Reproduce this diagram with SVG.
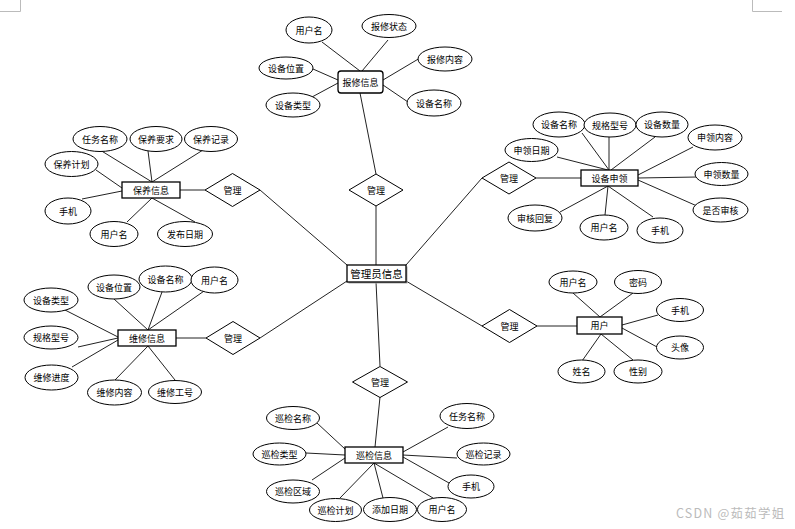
<svg xmlns="http://www.w3.org/2000/svg" width="795" height="529" viewBox="0 0 795 529">
<style>
.e{fill:#fff;stroke:#000;stroke-width:1}
.r{fill:#fff;stroke:#000;stroke-width:1.3}
.d{fill:#fff;stroke:#000;stroke-width:1}
.c line{stroke:#222;stroke-width:1}
.m{stroke:#bbb;stroke-width:1;fill:none}
text{font-family:"Noto Sans CJK SC","Noto Sans",sans-serif;font-size:9px;text-anchor:middle;dominant-baseline:central;fill:#000}
.big{font-size:10.5px}
.wm{font-size:12.5px;fill:#bbb;text-anchor:start;dominant-baseline:auto;letter-spacing:1.2px}
</style>
<rect width="795" height="529" fill="#fff"/>
<path class="m" d="M0 11.5H20.5V0M752.5 0V11.5H782"/>
<g id="connectors" class="c">
<line x1="322" y1="42" x2="360" y2="71"/>
<line x1="388" y1="40" x2="362" y2="71"/>
<line x1="313" y1="69" x2="338" y2="80"/>
<line x1="312" y1="97" x2="338" y2="83"/>
<line x1="420" y1="58" x2="383" y2="80"/>
<line x1="408" y1="102" x2="383" y2="85"/>
<line x1="360" y1="93" x2="376" y2="174"/>
<line x1="376" y1="206" x2="376" y2="265"/>
<line x1="100" y1="150" x2="152" y2="182"/>
<line x1="148" y1="151" x2="152" y2="182"/>
<line x1="203" y1="150" x2="152" y2="182"/>
<line x1="96" y1="170" x2="122" y2="188"/>
<line x1="82" y1="199" x2="122" y2="191"/>
<line x1="127" y1="222" x2="152" y2="198"/>
<line x1="195" y1="222" x2="152" y2="198"/>
<line x1="180" y1="190" x2="205" y2="190"/>
<line x1="260" y1="190" x2="347" y2="265"/>
<line x1="582" y1="133" x2="609" y2="170"/>
<line x1="609" y1="137" x2="609" y2="170"/>
<line x1="655" y1="137" x2="611" y2="170"/>
<line x1="557" y1="157" x2="608" y2="170"/>
<line x1="693" y1="147" x2="638" y2="175"/>
<line x1="697" y1="177" x2="638" y2="178"/>
<line x1="697" y1="206" x2="638" y2="180"/>
<line x1="560" y1="212" x2="608" y2="186"/>
<line x1="605" y1="215" x2="608" y2="186"/>
<line x1="653" y1="217" x2="608" y2="186"/>
<line x1="536" y1="178" x2="581" y2="178"/>
<line x1="482" y1="178" x2="406" y2="265"/>
<line x1="114" y1="299" x2="148" y2="330"/>
<line x1="162" y1="292" x2="148" y2="330"/>
<line x1="207" y1="289" x2="148" y2="330"/>
<line x1="65" y1="310" x2="118" y2="337"/>
<line x1="78" y1="347" x2="118" y2="338"/>
<line x1="72" y1="367" x2="118" y2="340"/>
<line x1="115" y1="380" x2="148" y2="346"/>
<line x1="175" y1="380" x2="148" y2="346"/>
<line x1="176" y1="338" x2="206" y2="338"/>
<line x1="260" y1="338" x2="347" y2="281"/>
<line x1="573" y1="293" x2="600" y2="317"/>
<line x1="633" y1="293" x2="600" y2="317"/>
<line x1="658" y1="315" x2="622" y2="325"/>
<line x1="657" y1="347" x2="622" y2="328"/>
<line x1="582" y1="361" x2="601" y2="334"/>
<line x1="633" y1="360" x2="601" y2="334"/>
<line x1="537" y1="326" x2="577" y2="326"/>
<line x1="482" y1="326" x2="406" y2="281"/>
<line x1="376" y1="282" x2="380" y2="366"/>
<line x1="380" y1="397" x2="375" y2="447"/>
<line x1="317" y1="423" x2="345" y2="449"/>
<line x1="306" y1="453" x2="345" y2="455"/>
<line x1="312" y1="480" x2="345" y2="458"/>
<line x1="340" y1="498" x2="374" y2="463"/>
<line x1="383" y1="498" x2="374" y2="463"/>
<line x1="433" y1="498" x2="374" y2="463"/>
<line x1="448" y1="427" x2="403" y2="452"/>
<line x1="457" y1="458" x2="403" y2="455"/>
<line x1="449" y1="483" x2="403" y2="457"/>
</g>

<g id="admin"><rect x="348.5" y="266.5" width="59" height="17" fill="#aaa"/><rect class="r" x="347" y="265" width="59" height="17"/><text class="big" x="376.5" y="273.5">管理员信息</text></g>

<g id="baoxiu"><rect class="r" x="338" y="71" width="45" height="22" rx="3"/><text x="360.5" y="82">报修信息</text></g>
<g id="bx_yhm"><ellipse class="e" cx="309" cy="30" rx="23" ry="13"/><text x="309" y="30">用户名</text></g>
<g id="bx_zt"><ellipse class="e" cx="389" cy="26" rx="27" ry="11.5"/><text x="389" y="26">报修状态</text></g>
<g id="bx_wz"><ellipse class="e" cx="286" cy="68" rx="27" ry="11"/><text x="286" y="68">设备位置</text></g>
<g id="bx_nr"><ellipse class="e" cx="445" cy="59" rx="27" ry="12"/><text x="445" y="59">报修内容</text></g>
<g id="bx_lx"><ellipse class="e" cx="293" cy="105" rx="27" ry="12"/><text x="293" y="105">设备类型</text></g>
<g id="bx_mc"><ellipse class="e" cx="434" cy="103" rx="27" ry="13"/><text x="434" y="103">设备名称</text></g>
<g id="gl_top"><polygon class="d" points="376,174 403,190 376,206 349,190"/><text x="376" y="190">管理</text></g>

<g id="baoyang"><rect class="r" x="122" y="182" width="58" height="16"/><text x="151" y="190">保养信息</text></g>
<g id="by_rw"><ellipse class="e" cx="100" cy="139" rx="27" ry="12.5"/><text x="100" y="139">任务名称</text></g>
<g id="by_yq"><ellipse class="e" cx="156" cy="139" rx="26" ry="12.5"/><text x="156" y="139">保养要求</text></g>
<g id="by_jl"><ellipse class="e" cx="211" cy="139" rx="26.5" ry="12.5"/><text x="211" y="139">保养记录</text></g>
<g id="by_jh"><ellipse class="e" cx="71.5" cy="164" rx="26.5" ry="12.5"/><text x="71.5" y="164">保养计划</text></g>
<g id="by_sj"><ellipse class="e" cx="68" cy="211" rx="23" ry="13"/><text x="68" y="211">手机</text></g>
<g id="by_yhm"><ellipse class="e" cx="114" cy="234" rx="24" ry="12.5"/><text x="114" y="234">用户名</text></g>
<g id="by_rq"><ellipse class="e" cx="185" cy="234" rx="27.5" ry="12.5"/><text x="185" y="234">发布日期</text></g>
<g id="gl_by"><polygon class="d" points="232.5,173.5 260,190 232.5,206.5 205,190"/><text x="232.5" y="190">管理</text></g>

<g id="shenling"><rect class="r" x="581" y="170" width="57" height="16"/><text x="609.5" y="178">设备申领</text></g>
<g id="sl_mc"><ellipse class="e" cx="559" cy="124.5" rx="26" ry="12.5"/><text x="559" y="124.5">设备名称</text></g>
<g id="sl_gg"><ellipse class="e" cx="610" cy="125" rx="26" ry="12"/><text x="610" y="125">规格型号</text></g>
<g id="sl_sl"><ellipse class="e" cx="662" cy="124.5" rx="26" ry="12.5"/><text x="662" y="124.5">设备数量</text></g>
<g id="sl_rq"><ellipse class="e" cx="531.5" cy="150" rx="26.5" ry="11.5"/><text x="531.5" y="150">申领日期</text></g>
<g id="sl_nr"><ellipse class="e" cx="715" cy="137.5" rx="27" ry="12.5"/><text x="715" y="137.5">申领内容</text></g>
<g id="sl_sl2"><ellipse class="e" cx="721.5" cy="174" rx="26.5" ry="11.5"/><text x="721.5" y="174">申领数量</text></g>
<g id="sl_sh"><ellipse class="e" cx="720.5" cy="210" rx="27.5" ry="12"/><text x="720.5" y="210">是否审核</text></g>
<g id="sl_hf"><ellipse class="e" cx="535" cy="218" rx="27" ry="13"/><text x="535" y="218">审核回复</text></g>
<g id="sl_yhm"><ellipse class="e" cx="604" cy="227.5" rx="24" ry="12.5"/><text x="604" y="227.5">用户名</text></g>
<g id="sl_sj"><ellipse class="e" cx="660" cy="230.5" rx="23" ry="12.5"/><text x="660" y="230.5">手机</text></g>
<g id="gl_sl"><polygon class="d" points="509,162 536,178 509,194 482,178"/><text x="509" y="178">管理</text></g>

<g id="weixiu"><rect class="r" x="118" y="330" width="58" height="16"/><text x="147" y="338">维修信息</text></g>
<g id="wx_wz"><ellipse class="e" cx="114" cy="287" rx="26" ry="12"/><text x="114" y="287">设备位置</text></g>
<g id="wx_mc"><ellipse class="e" cx="165.5" cy="279" rx="26.5" ry="13"/><text x="165.5" y="279">设备名称</text></g>
<g id="wx_yhm"><ellipse class="e" cx="214.5" cy="280" rx="23.5" ry="13"/><text x="214.5" y="280">用户名</text></g>
<g id="wx_lx"><ellipse class="e" cx="51" cy="300" rx="27" ry="12"/><text x="51" y="300">设备类型</text></g>
<g id="wx_gg"><ellipse class="e" cx="51" cy="337.5" rx="27" ry="11.5"/><text x="51" y="337.5">规格型号</text></g>
<g id="wx_jd"><ellipse class="e" cx="51.5" cy="377.5" rx="26.5" ry="12.5"/><text x="51.5" y="377.5">维修进度</text></g>
<g id="wx_nr"><ellipse class="e" cx="114.5" cy="392.5" rx="27" ry="12.5"/><text x="114.5" y="392.5">维修内容</text></g>
<g id="wx_gh"><ellipse class="e" cx="175" cy="392" rx="26.5" ry="11.5"/><text x="175" y="392">维修工号</text></g>
<g id="gl_wx"><polygon class="d" points="233,321.5 260,338 233,354.5 206,338"/><text x="233" y="338">管理</text></g>

<g id="yonghu"><rect class="r" x="577" y="317" width="45" height="17"/><text x="599.5" y="325.5">用户</text></g>
<g id="yh_yhm"><ellipse class="e" cx="573" cy="282" rx="24" ry="11"/><text x="573" y="282">用户名</text></g>
<g id="yh_mm"><ellipse class="e" cx="638" cy="282" rx="23.5" ry="11.5"/><text x="638" y="282">密码</text></g>
<g id="yh_sj"><ellipse class="e" cx="680" cy="310" rx="23.5" ry="11.5"/><text x="680" y="310">手机</text></g>
<g id="yh_tx"><ellipse class="e" cx="680" cy="347.5" rx="23.5" ry="11.5"/><text x="680" y="347.5">头像</text></g>
<g id="yh_xm"><ellipse class="e" cx="581.5" cy="371.5" rx="23.5" ry="11.5"/><text x="581.5" y="371.5">姓名</text></g>
<g id="yh_xb"><ellipse class="e" cx="638" cy="371.5" rx="24" ry="11.5"/><text x="638" y="371.5">性别</text></g>
<g id="gl_yh"><polygon class="d" points="509.5,309.5 537,326 509.5,342.5 482,326"/><text x="509.5" y="326">管理</text></g>

<g id="xunjian"><rect class="r" x="345" y="447" width="58" height="16"/><text x="374" y="455">巡检信息</text></g>
<g id="xj_mc"><ellipse class="e" cx="293" cy="418" rx="26.5" ry="11.5"/><text x="293" y="418">巡检名称</text></g>
<g id="xj_lx"><ellipse class="e" cx="279.5" cy="454" rx="26.5" ry="11"/><text x="279.5" y="454">巡检类型</text></g>
<g id="xj_qy"><ellipse class="e" cx="293" cy="491.5" rx="26.5" ry="11.5"/><text x="293" y="491.5">巡检区域</text></g>
<g id="xj_jh"><ellipse class="e" cx="335.5" cy="510" rx="26" ry="11.5"/><text x="335.5" y="510">巡检计划</text></g>
<g id="xj_rq"><ellipse class="e" cx="390" cy="509.5" rx="26.5" ry="12"/><text x="390" y="509.5">添加日期</text></g>
<g id="xj_yhm"><ellipse class="e" cx="442" cy="509.5" rx="24.5" ry="12"/><text x="442" y="509.5">用户名</text></g>
<g id="xj_rw"><ellipse class="e" cx="467" cy="416" rx="27" ry="12.5"/><text x="467" y="416">任务名称</text></g>
<g id="xj_jl"><ellipse class="e" cx="483.5" cy="454" rx="26.5" ry="11"/><text x="483.5" y="454">巡检记录</text></g>
<g id="xj_sj"><ellipse class="e" cx="471" cy="486.5" rx="23" ry="11.5"/><text x="471" y="486.5">手机</text></g>
<g id="gl_xj"><polygon class="d" points="380,366.5 407.5,382 380,397.5 352.5,382"/><text x="380" y="382">管理</text></g>

<text class="wm" x="676" y="518">CSDN @茹茹学姐</text>
</svg>
